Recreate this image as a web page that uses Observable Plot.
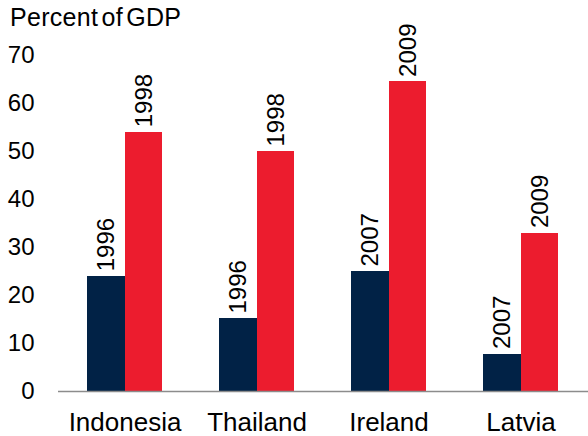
<!DOCTYPE html>
<html>
<head>
<meta charset="utf-8">
<script src="https://cdn.jsdelivr.net/npm/d3@7"></script>
<script src="https://cdn.jsdelivr.net/npm/@observablehq/plot@0.6"></script>
<style>
  html, body { margin: 0; padding: 0; background: #fff; }
  #wrap { position: relative; width: 588px; height: 436px; font-family: "Liberation Sans", Arial, sans-serif; }
  #title { position: absolute; left: 10px; top: 4.8px; font-size: 25px; line-height: 25px; color: #000; letter-spacing: 0.3px; word-spacing: -4px; white-space: nowrap; }
  #chart { position: absolute; left: 0; top: 0; }
</style>
</head>
<body>
<div id="wrap">
  <div id="chart"></div>
  <div id="title">Percent of GDP</div>
</div>
<script>
const countries = ["Indonesia", "Thailand", "Ireland", "Latvia"];
const beforeYears = ["1996", "1996", "2007", "2007"];
const beforeValues = [24, 15.2, 25, 7.8];
const afterYears = ["1998", "1998", "2009", "2009"];
const afterValues = [54, 50, 64.5, 33];
const yTicks = [0, 10, 20, 30, 40, 50, 60, 70];

const before = countries.map((c, i) => ({country: c, year: beforeYears[i], value: beforeValues[i]}));
const after = countries.map((c, i) => ({country: c, year: afterYears[i], value: afterValues[i]}));

const navy = "#012246";
const red = "#ec1c2e";
const half = 38;

const chart = Plot.plot({
  width: 588,
  height: 436,
  marginLeft: 58,
  marginRight: 0,
  marginTop: 55,
  marginBottom: 45,
  style: {fontFamily: "'Liberation Sans', Arial, sans-serif", background: "white"},
  x: {domain: countries, paddingInner: 0.43, paddingOuter: 0.215, label: null},
  y: {domain: [0, 70], label: null},
  marks: [
    Plot.barY(before, {x: "country", y: "value", fill: navy, insetRight: half - 0.6, shapeRendering: "crispEdges"}),
    Plot.barY(after, {x: "country", y: "value", fill: red, insetLeft: half, shapeRendering: "crispEdges"}),
    Plot.ruleY([0], {stroke: "#8c8c8c", strokeWidth: 1.5}),
    Plot.text(before, {x: "country", y: "value", text: "year", rotate: -90, textAnchor: "start", dx: -half / 2, dy: -5, fontSize: 24, fill: "#000"}),
    Plot.text(after, {x: "country", y: "value", text: "year", rotate: -90, textAnchor: "start", dx: half / 2, dy: -5, fontSize: 24, fill: "#000"}),
    Plot.axisY({ticks: yTicks, tickSize: 0, tickPadding: 24, fontSize: 24, tickFormat: d => String(d), color: "#000"}),
    Plot.axisX({tickSize: 0, tickPadding: 21, fontSize: 26, color: "#000"})
  ]
});
document.getElementById("chart").appendChild(chart);
</script>
</body>
</html>
